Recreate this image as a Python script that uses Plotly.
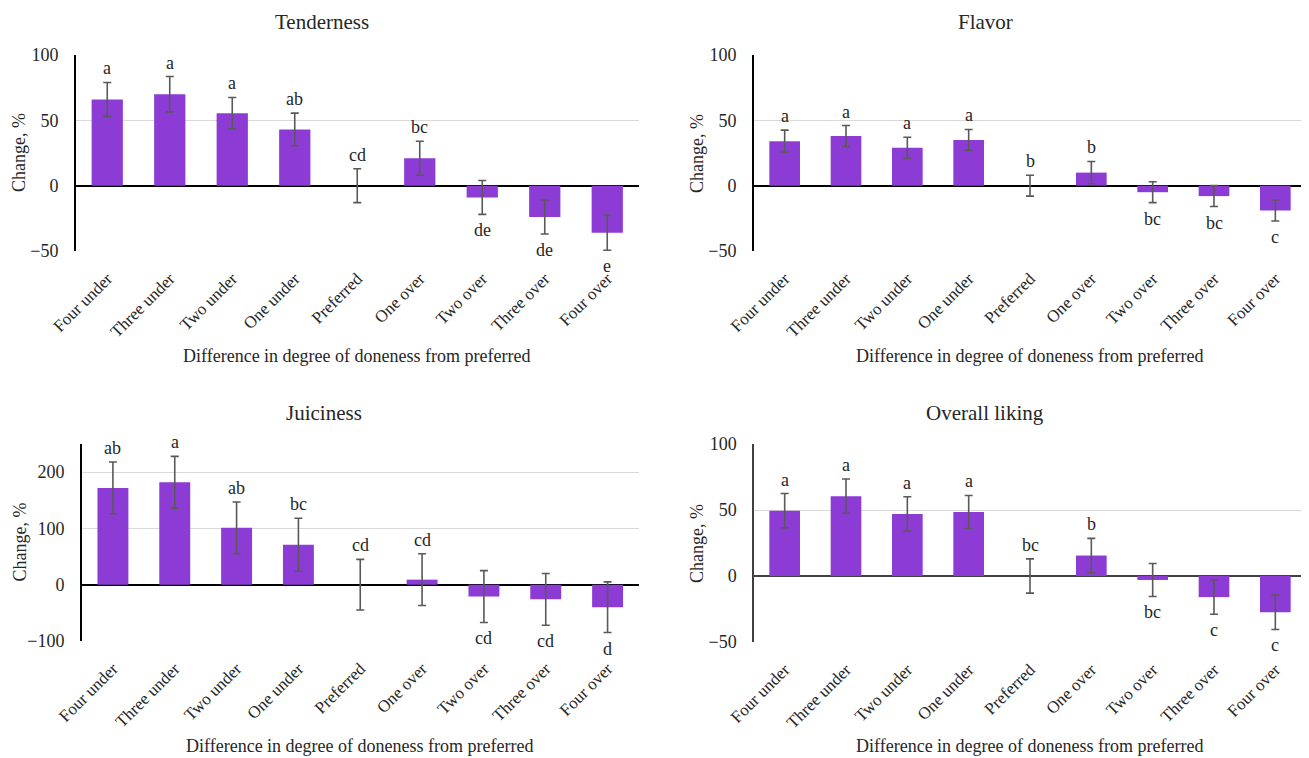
import plotly.graph_objects as go

categories = ["Four under", "Three under", "Two under", "One under", "Preferred",
              "One over", "Two over", "Three over", "Four over"]

tender_mean = [66, 70, 55.5, 43, 0, 21, -9, -24, -36]
tender_err = [13, 13.5, 12, 12.5, 13, 13, 13, 13, 13.5]
tender_letters = ["a", "a", "a", "ab", "cd", "bc", "de", "de", "e"]

flavor_mean = [34, 38, 29, 35, 0, 10, -5, -8, -19]
flavor_err = [8.5, 8, 8, 8, 8, 8.5, 8, 8, 8]
flavor_letters = ["a", "a", "a", "a", "b", "b", "bc", "bc", "c"]

juicy_mean = [172, 182, 101, 71, 0, 9, -21, -26, -40]
juicy_err = [46, 46, 46, 47, 45, 46, 46, 46, 45]
juicy_letters = ["ab", "a", "ab", "bc", "cd", "cd", "cd", "cd", "d"]

overall_mean = [49.5, 60.5, 47, 48.5, 0, 15.5, -3, -16, -27.5]
overall_err = [13, 13, 13, 12.5, 13, 13, 12.5, 13, 13]
overall_letters = ["a", "a", "a", "a", "bc", "b", "bc", "c", "c"]

titles = ["Tenderness", "Flavor", "Juiciness", "Overall liking"]
y_ranges = [[-50, 100], [-50, 100], [-100, 250], [-50, 100]]
y_ticks = [[-50, 0, 50, 100], [-50, 0, 50, 100], [-100, 0, 100, 200], [-50, 0, 50, 100]]
x_title = "Difference in degree of doneness from preferred"
y_title = "Change, %"

# page body has an 8px margin: lay out in screen pixels, then shift
OFF = 8
W, H = 1309 - OFF, 758 - OFF
FONT = "Liberation Serif"
TXT = "#262626"
BAR = "#8c3cd4"

# panel pixel boxes in screen coords: (left, right, top, bottom)
boxes = [(76, 638.5, 55, 251), (754, 1306, 55, 251),
         (82, 638.5, 444, 641), (754, 1306, 444, 642)]
title_pos = [(322, 22), (985, 22), (324, 413), (985, 413)]
xtitle_y = [356, 356, 746, 746]
ytitle_x = [19, 697, 19, 697]


def px(x):
    return (x - OFF) / W


def py(y):
    return 1 - (y - OFF) / H


panels = [(tender_mean, tender_err, tender_letters),
          (flavor_mean, flavor_err, flavor_letters),
          (juicy_mean, juicy_err, juicy_letters),
          (overall_mean, overall_err, overall_letters)]

fig = go.Figure()
annotations = []
for i, (mean, err, letters) in enumerate(panels):
    n = "" if i == 0 else str(i + 1)
    fig.add_trace(go.Bar(
        x=categories, y=mean, xaxis="x" + n, yaxis="y" + n,
        marker=dict(color=BAR, line=dict(width=0)),
        error_y=dict(type="data", array=err, visible=True, color="#595959",
                     thickness=1.6, width=4),
        showlegend=False, hoverinfo="x+y"))
    l, r, t, b = boxes[i]
    zc = "#000000" if i < 3 else "#404040"
    zw = 2 if i < 3 else 1.5
    fig.layout["xaxis" + n] = dict(
        domain=[px(l), min(px(r), 1)], anchor="y" + n, type="category",
        categoryorder="array", categoryarray=categories, automargin=False,
        tickangle=-45, ticks="outside", ticklen=10, tickcolor="rgba(0,0,0,0)",
        showline=False, showgrid=False, zeroline=False,
        tickfont=dict(family=FONT, size=17, color=TXT))
    fig.layout["yaxis" + n] = dict(
        domain=[py(b), py(t)], anchor="x" + n, automargin=False,
        range=y_ranges[i], tickvals=y_ticks[i],
        ticks="outside", ticklen=12, tickcolor="rgba(0,0,0,0)",
        showline=True, linecolor=zc, linewidth=zw,
        showgrid=True, gridcolor="#d9d9d9", gridwidth=1,
        zeroline=True, zerolinecolor=zc, zerolinewidth=zw,
        tickfont=dict(family=FONT, size=18, color=TXT))
    for c, m, e, s in zip(categories, mean, err, letters):
        if m >= 0:
            annotations.append(dict(x=c, y=m + e, xref="x" + n, yref="y" + n,
                                    text=s, showarrow=False, yanchor="bottom", yshift=2,
                                    font=dict(family=FONT, size=18, color=TXT)))
        else:
            annotations.append(dict(x=c, y=m - e, xref="x" + n, yref="y" + n,
                                    text=s, showarrow=False, yanchor="top", yshift=-4,
                                    font=dict(family=FONT, size=18, color=TXT)))
    tx, ty = title_pos[i]
    annotations.append(dict(x=px(tx), y=py(ty), xref="paper", yref="paper",
                            text=titles[i], showarrow=False, xanchor="center", yanchor="middle",
                            font=dict(family=FONT, size=21, color=TXT)))
    annotations.append(dict(x=px((l + r) / 2), y=py(xtitle_y[i]), xref="paper", yref="paper",
                            text=x_title, showarrow=False, xanchor="center", yanchor="middle",
                            font=dict(family=FONT, size=18, color=TXT)))
    annotations.append(dict(x=px(ytitle_x[i]), y=py((t + b) / 2), xref="paper", yref="paper",
                            text=y_title, showarrow=False, textangle=-90,
                            xanchor="center", yanchor="middle",
                            font=dict(family=FONT, size=18, color=TXT)))

fig.update_layout(width=W, height=H, margin=dict(l=0, r=0, t=0, b=0, autoexpand=False),
                  paper_bgcolor="white", plot_bgcolor="white",
                  font=dict(family=FONT),
                  bargap=0.5, showlegend=False, annotations=annotations)

fig.write_html("out.html")
